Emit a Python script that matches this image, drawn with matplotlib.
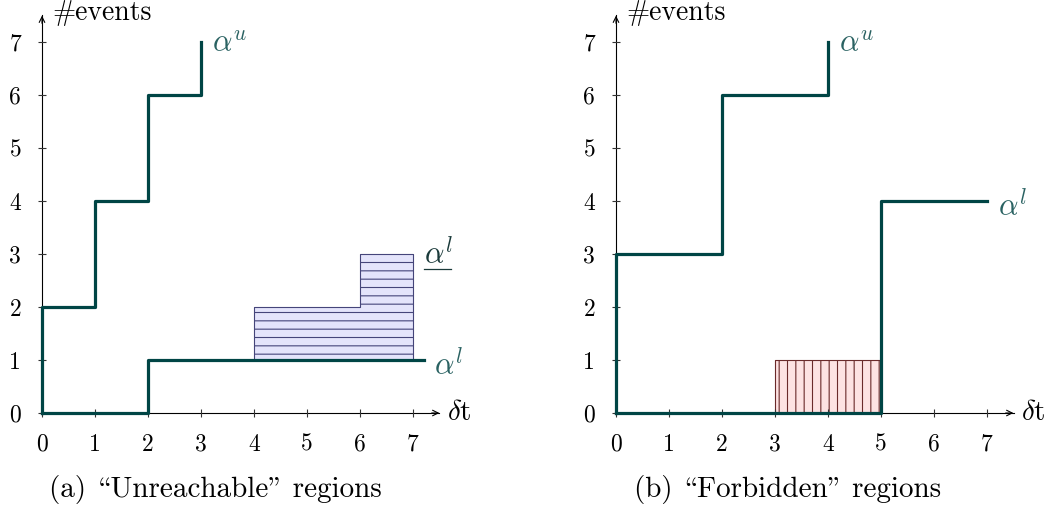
import matplotlib
matplotlib.use("Agg")
import matplotlib.pyplot as plt
import numpy as np

plt.rcParams['font.family'] = ['cmr10', 'DejaVu Serif']
plt.rcParams['mathtext.fontset'] = 'cm'
plt.rcParams['axes.unicode_minus'] = False
plt.rcParams['hatch.linewidth'] = 0.8

# data
ticks = [0, 1, 2, 3, 4, 5, 6, 7]

# (a) unreachable
a_upper_t = [0, 0, 1, 2, 3]
a_upper_v = [0, 2, 4, 6, 7]
a_lower_t = [0, 2, 7.2]
a_lower_v = [0, 1, 1]
a_region_t = [4, 6, 7]
a_region_top = [2, 3, 3]
a_region_bot = 1

# (b) forbidden
b_upper_t = [0, 0, 2, 4]
b_upper_v = [0, 3, 6, 7]
b_lower_t = [0, 5, 7]
b_lower_v = [0, 4, 4]
b_region_t = [3, 5]
b_region_top = [1, 1]
b_region_bot = 0

line_c = '#004545'
lab_c = '#2a6262'

fig = plt.figure(figsize=(10.63, 5.07), dpi=100)
W, H = 1063, 507
ppu = 53.0


def make_ax(x0px):
    xmin, xmax, ymin, ymax = -0.3, 8.0, -0.3, 7.6
    left = (x0px + xmin * ppu) / W
    width = (xmax - xmin) * ppu / W
    bottom = (H - (413 - ymin * ppu)) / H
    height = (ymax - ymin) * ppu / H
    ax = fig.add_axes([left, bottom, width, height])
    ax.set_xlim(xmin, xmax)
    ax.set_ylim(ymin, ymax)
    ax.patch.set_alpha(0)
    for s in ['top', 'right']:
        ax.spines[s].set_visible(False)
    for s in ['left', 'bottom']:
        ax.spines[s].set_position(('data', 0))
        ax.spines[s].set_bounds(0, 7.5)
        ax.spines[s].set_linewidth(0.8)
        ax.spines[s].set_zorder(1)
    ax.annotate('', xy=(7.55, 0), xytext=(7.3, 0),
                arrowprops=dict(arrowstyle='->', lw=0.8, color='black'))
    ax.annotate('', xy=(0, 7.55), xytext=(0, 7.3),
                arrowprops=dict(arrowstyle='->', lw=0.8, color='black'))
    ax.set_xticks(ticks)
    ax.set_yticks(ticks)
    ax.tick_params(direction='inout', length=6, width=0.8, labelsize=17,
                   pad=12, color='#333333')
    ax.text(0.2, 7.55, '#events', fontsize=20, va='center', ha='left')
    ax.text(7.65, 0, r'$\delta$t', fontsize=21, va='center', ha='left')
    return ax


ax1 = make_ax(42)
ax1.fill_between(a_region_t, a_region_bot, a_region_top, step='post',
                 facecolor='#e4e4fb', edgecolor='#45457a', hatch='--', lw=0.8)
ax1.step(a_upper_t, a_upper_v, where='post', color=line_c, lw=2.3, zorder=3)
ax1.step(a_lower_t, a_lower_v, where='post', color=line_c, lw=2.3, zorder=3)
ax1.text(3.2, 6.95, r'$\alpha^u$', color=lab_c, fontsize=22, va='center')
ax1.text(7.4, 0.9, r'$\alpha^l$', color=lab_c, fontsize=22, va='center')
ax1.text(7.2, 3.0, r'$\alpha^l$', color='#1a3a3a', fontsize=22, va='center')
ax1.plot([7.2, 7.72], [2.72, 2.72], color='#1a3a3a', lw=0.9)

ax2 = make_ax(616)
ax2.fill_between(b_region_t, b_region_bot, b_region_top, step='post',
                 facecolor='#fde2e2', edgecolor='#6a2a2a', hatch='||', lw=0.8)
ax2.step(b_upper_t, b_upper_v, where='post', color=line_c, lw=2.3, zorder=3)
ax2.step(b_lower_t, b_lower_v, where='post', color=line_c, lw=2.3, zorder=3)
ax2.text(4.2, 6.95, r'$\alpha^u$', color=lab_c, fontsize=22, va='center')
ax2.text(7.2, 3.9, r'$\alpha^l$', color=lab_c, fontsize=22, va='center')

fig.text(215 / W, 1 - 489 / H, '(a) \\Unreachable" regions',
         fontsize=21, ha='center', va='center')
fig.text(788 / W, 1 - 489 / H, '(b) \\Forbidden" regions',
         fontsize=21, ha='center', va='center')

fig.savefig('out.png', dpi=100)
